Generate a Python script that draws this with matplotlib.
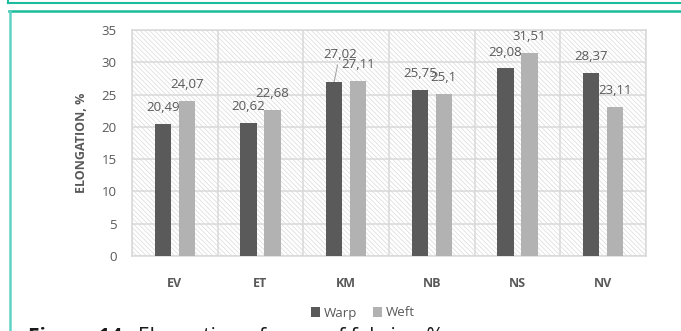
import matplotlib.pyplot as plt
import matplotlib.patches as mpatches
from matplotlib.lines import Line2D
import numpy as np

# data
fabrics = ["EV", "ET", "KM", "NB", "NS", "NV"]
warp = [20.49, 20.62, 27.02, 25.75, 29.08, 28.37]
weft = [24.07, 22.68, 27.11, 25.10, 31.51, 23.11]
yticks = [0, 5, 10, 15, 20, 25, 30, 35]

plt.rcParams['font.family'] = ['Open Sans', 'DejaVu Sans']
plt.rcParams['hatch.linewidth'] = 0.5

grey_txt = "#595959"
warp_col = "#5a5a5a"
weft_col = "#b2b2b2"
grid_col = "#d9d9d9"

fig = plt.figure(figsize=(6.81, 3.31), dpi=100)
ax = fig.add_axes([132/681, 1-256/331, 514/681, 226/331])

x = np.arange(len(fabrics))
off = 0.14
w = 0.19

# hatched plot background
bg = mpatches.Rectangle((0, 0), 1, 1, transform=ax.transAxes, facecolor="white",
                        edgecolor="#dadada", hatch="\\" * 7, linewidth=0, zorder=0)
ax.add_patch(bg)

for yv in yticks:
	ax.axhline(yv, color=grid_col, lw=1.1, zorder=1)
for xv in np.arange(-0.5, len(fabrics), 1.0):
	ax.axvline(xv, color=grid_col, lw=1.1, zorder=1)

ax.bar(x - off, warp, w, color=warp_col, zorder=3, label="Warp")
ax.bar(x + off, weft, w, color=weft_col, zorder=3, label="Weft")

def lab(v):
	return ("%g" % v).replace(".", ",")

for i in range(len(fabrics)):
	if fabrics[i] == "KM":
		# excel moved this label up and drew a leader line
		ax.annotate(lab(warp[i]), (x[i] - off, warp[i]), xytext=(4, 15),
		            textcoords="offset points", ha="center", va="bottom",
		            fontsize=9.5, color=grey_txt, zorder=4,
		            arrowprops=dict(arrowstyle="-", color="#a6a6a6", lw=0.8,
		                            shrinkA=1, shrinkB=0))
	else:
		ax.annotate(lab(warp[i]), (x[i] - off, warp[i]), xytext=(0, 7),
		            textcoords="offset points", ha="center", va="bottom",
		            fontsize=9.5, color=grey_txt, zorder=4)
	ax.annotate(lab(weft[i]), (x[i] + off, weft[i]), xytext=(0, 7),
	            textcoords="offset points", ha="center", va="bottom",
	            fontsize=9.5, color=grey_txt, zorder=4)

ax.set_xlim(-0.5, len(fabrics) - 0.5)
ax.set_ylim(0, 35)
ax.set_yticks(yticks)
ax.set_xticks(x)
ax.set_xticklabels(fabrics, fontweight="bold", fontsize=9, color=grey_txt)
ax.tick_params(axis="y", length=0, pad=11, labelsize=9.5, labelcolor=grey_txt)
ax.tick_params(axis="x", length=0, pad=15)
for s in ax.spines.values():
	s.set_color(grid_col)
	s.set_linewidth(1.1)

ax.set_ylabel("ELONGATION, %", fontweight="bold", fontsize=9, color=grey_txt)
ax.yaxis.set_label_coords(-0.086, 0.5)

leg = fig.legend(loc="center", bbox_to_anchor=(363/681, 1-313/331), ncol=2,
                 frameon=False, fontsize=9.5, handlelength=0.7, handleheight=0.7,
                 handletextpad=0.3, columnspacing=1.2, borderpad=0)
for t in leg.get_texts():
	t.set_color(grey_txt)

# page decoration: teal frame lines of the document
teal = "#1abc9c"
fig.add_artist(Line2D([8/681, 1], [1-2.5/331, 1-2.5/331], color=teal, lw=1.5))
fig.add_artist(Line2D([8/681, 8/681], [1, 1-2.5/331], color=teal, lw=1.5))
fig.add_artist(Line2D([9/681, 1], [1-10.5/331, 1-10.5/331], color=teal, lw=1.8))
fig.add_artist(Line2D([10/681, 10/681], [1-10.5/331, 0], color="#5fd2c3", lw=1.8))

# caption (cut off at the bottom of the screenshot)
fig.text(28/681, -12/331, "Figure 14.", fontsize=15, fontweight="bold",
         color="#1a1a1a", va="baseline")
fig.text(138/681, -12/331, "Elongation of warp of fabrics, %", fontsize=15,
         color="#1a1a1a", va="baseline")

fig.savefig("out.png", dpi=100)
